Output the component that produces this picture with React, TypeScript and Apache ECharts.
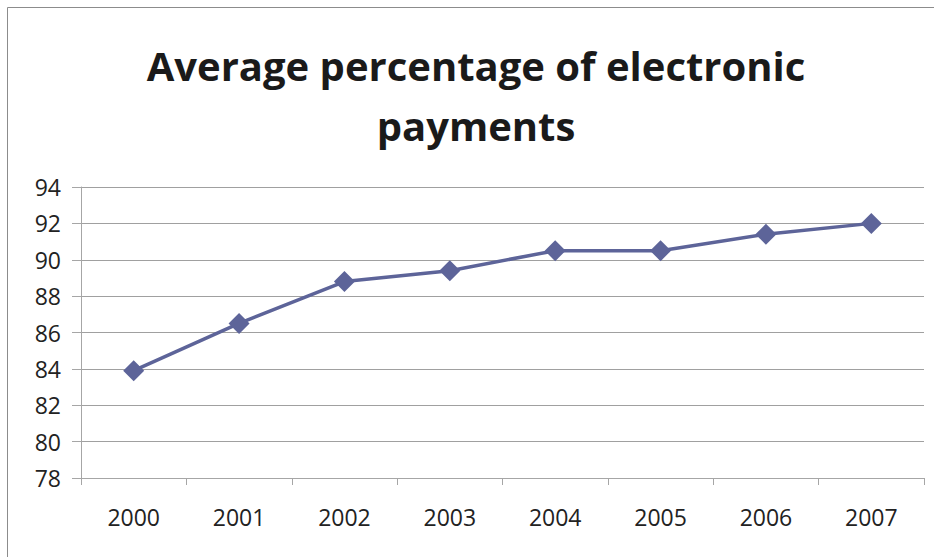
import React, { useEffect, useRef } from "react";
import * as echarts from "echarts";

const years = ["2000", "2001", "2002", "2003", "2004", "2005", "2006", "2007"];
const values = [83.9, 86.5, 88.8, 89.4, 90.5, 90.5, 91.4, 92.0];
const titleLines = ["Average percentage of electronic", "payments"];
const yMin = 78;
const yMax = 94;
const yStep = 2;

export default function App() {
  const ref = useRef<HTMLDivElement>(null);
  useEffect(() => {
    if (!ref.current) return;
    const chart = echarts.init(ref.current, null, { renderer: "svg" });
    const font = "'Open Sans', 'Noto Sans', sans-serif";
    chart.setOption({
      animation: false,
      backgroundColor: "#ffffff",
      title: {
        text: titleLines.join("\n"),
        left: 471,
        textAlign: "center",
        top: 30,
        textStyle: {
          fontFamily: font,
          fontWeight: "bold",
          fontSize: 40,
          lineHeight: 60,
          color: "#1a1a1a",
        },
      },
      graphic: [
        {
          type: "rect",
          shape: { x: 7.5, y: 7.5, width: 960, height: 580 },
          style: { fill: "none", stroke: "#8c8c8c", lineWidth: 1 },
          silent: true,
          z: -1,
        },
      ],
      grid: { left: 81, right: 10, top: 187, bottom: 79, containLabel: false },
      xAxis: {
        type: "category",
        data: years,
        boundaryGap: true,
        axisLine: { lineStyle: { color: "#a6a6a6", width: 1 } },
        axisTick: { show: true, length: 7, lineStyle: { color: "#a6a6a6" } },
        axisLabel: { fontFamily: font, fontSize: 23, color: "#222", margin: 27 },
        splitLine: { show: false },
      },
      yAxis: {
        type: "value",
        min: yMin,
        max: yMax,
        interval: yStep,
        axisLine: { show: true, lineStyle: { color: "#a6a6a6", width: 1 } },
        axisTick: { show: true, length: 9, lineStyle: { color: "#a6a6a6" } },
        axisLabel: { fontFamily: font, fontSize: 23, color: "#222", margin: 20 },
        splitLine: { show: true, lineStyle: { color: "#a0a0a0", width: 1 } },
      },
      series: [
        {
          type: "line",
          data: values,
          symbol: "diamond",
          symbolSize: 21,
          lineStyle: { color: "#5d6499", width: 3.5 },
          itemStyle: { color: "#5d6499" },
        },
      ],
    });
    return () => chart.dispose();
  }, []);
  return (
    <div
      ref={ref}
      style={{ position: "fixed", left: 0, top: 0, width: 934, height: 557 }}
    />
  );
}
